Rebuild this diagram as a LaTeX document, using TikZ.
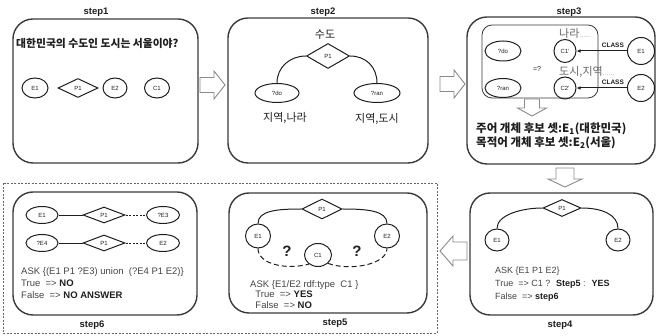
\documentclass[tikz,border=0pt]{standalone}
\usepackage{fontspec}
\setmainfont{Liberation Sans}
\newfontfamily\kr{Noto Sans CJK KR}
\usetikzlibrary{shapes.geometric,arrows.meta}
\definecolor{frame}{HTML}{3A3A3A}
\definecolor{ink}{HTML}{1E1E1E}
\definecolor{txt}{HTML}{454545}
\definecolor{arrowgray}{HTML}{8A8A8A}
\tikzset{
  stepbox/.style={draw=frame, line width=1.4pt, rounded corners=20pt, inner sep=0pt},
  steplabel/.style={font=\bfseries\fontsize{9.5}{10}\selectfont, text=ink},
  ent/.style={ellipse, draw=ink, line width=1pt, inner sep=0pt, font=\fontsize{6}{6}\selectfont, text=ink},
  rel/.style={diamond, draw=ink, line width=1pt, inner sep=0pt, font=\fontsize{6}{6}\selectfont, text=ink},
  link/.style={draw=ink, line width=1pt},
  dashlink/.style={draw=ink, line width=1pt, dash pattern=on 5pt off 3pt},
  dotlink/.style={draw=ink, line width=0.8pt, dash pattern=on 2pt off 1.5pt},
  krtext/.style={font=\kr\fontsize{11}{11}\selectfont, text=ink},
  krbold/.style={font=\kr\bfseries\fontsize{10.8}{13}\selectfont, text=ink, align=left},
  asktext/.style={font=\fontsize{9.5}{11}\selectfont, text=txt, align=left, inner sep=0pt},
  % hollow block arrow: total length, head length, body half width, head half width
  pics/blockarrow/.style n args={4}{code={
    \draw[draw=arrowgray, line width=0.9pt, fill=white, line join=miter]
      (0,-#3) -- ({#1-#2},-#3) -- ({#1-#2},-#4) -- (#1,0) -- ({#1-#2},#4) -- ({#1-#2},#3) -- (0,#3) -- cycle;}},
}
\begin{document}
\begin{tikzpicture}[x=1pt,y=-1pt]
\useasboundingbox (0,0) rectangle (657,336);

% ---------- step 1 ----------
\node[steplabel] (l1) at (96,12) {step1};
\node[stepbox, minimum width=185pt, minimum height=144pt] (s1) at (105.5,91) {};
\node[krbold, anchor=west, inner sep=0pt] (q1) at (16,43) {대한민국의 수도인 도시는 서울이야?};
\node[ent, minimum width=26pt, minimum height=20pt] (e11) at (35,88) {E1};
\node[rel, minimum width=40pt, minimum height=19pt] (p11) at (78,88) {P1};
\node[ent, minimum width=24pt, minimum height=20pt] (e12) at (115,88) {E2};
\node[ent, minimum width=25pt, minimum height=20pt] (c11) at (157,88) {C1};

\pic at (200,85) {blockarrow={25}{11}{7.5}{14}};

% ---------- step 2 ----------
\node[steplabel] (l2) at (323,12) {step2};
\node[stepbox, minimum width=200pt, minimum height=145pt] (s2) at (328,90.5) {};
\node[krtext] (cap) at (325,35) {수도};
\node[rel, minimum width=43pt, minimum height=25pt] (p2) at (328,56) {P1};
\node[ent, minimum width=44pt, minimum height=19pt] (do2) at (277,93) {?do};
\node[ent, minimum width=46pt, minimum height=19pt] (ran2) at (377,93) {?ran};
\draw[link] (do2.north) .. controls +(0,-16) and +(-16,0) .. (p2.west);
\draw[link] (p2.east) .. controls +(16,0) and +(0,-16) .. (ran2.north);
\node[krtext] (t21) at (285,118) {지역,나라};
\node[krtext] (t22) at (377,119) {지역,도시};

\pic at (440,84) {blockarrow={25}{11}{7.5}{14}};

% ---------- step 3 ----------
\node[steplabel] (l3) at (569,12) {step3};
\node[stepbox, minimum width=188pt, minimum height=147pt] (s3) at (561,90.5) {};
\node[draw=frame, line width=0.8pt, rounded corners=10pt, minimum width=116pt, minimum height=73pt] (inner3) at (540,61.5) {};
\node[ent, minimum width=36pt, minimum height=20pt] (do3) at (503,51) {?do};
\node[ent, minimum width=36pt, minimum height=19pt] (ran3) at (503,88) {?ran};
\node[ent, minimum width=22pt, minimum height=23pt] (c31) at (565,51) {C1'};
\node[ent, minimum width=22pt, minimum height=22pt] (c32) at (565,88) {C2'};
\node[ent, minimum width=27pt, minimum height=27pt] (e31) at (641,51) {E1};
\node[ent, minimum width=27pt, minimum height=27pt] (e32) at (641,88) {E2};
\node[font=\fontsize{7}{7}\selectfont, text=ink] (eq3) at (537,69) {=?};
\draw[link, -{Latex[length=4pt,width=3.5pt]}] (e31) -- (c31)
  node[pos=0.28, above=-0.5pt, font=\bfseries\fontsize{6.5}{7}\selectfont, text=ink] (cl1) {CLASS};
\draw[link, -{Latex[length=4pt,width=3.5pt]}] (e32) -- (c32)
  node[pos=0.28, above=-0.5pt, font=\bfseries\fontsize{6.5}{7}\selectfont, text=ink] (cl2) {CLASS};
\node[anchor=west, inner sep=0pt, font=\kr\fontsize{11}{11}\selectfont, text=black!60] (n3) at (559,33)
  {나라\textcolor{black!40}{\fontsize{7}{7}\selectfont ......}};
\node[anchor=west, inner sep=0pt, font=\kr\fontsize{11}{11}\selectfont, text=black!60] (d3) at (559,72)
  {도시,지역\textcolor{black!40}{\fontsize{7}{7}\selectfont ......}};
\pic[rotate=-90] at (532,99) {blockarrow={17}{8}{7.5}{14.5}};
\node[krbold, anchor=north west, inner sep=0pt, font=\kr\bfseries\fontsize{11.5}{13.5}\selectfont] (cand) at (476,123)
  {주어 개체 후보 셋:E\textsubscript{1}(대한민국)\\목적어 개체 후보 셋:E\textsubscript{2}(서울)};

\pic[rotate=-90] at (565,168) {blockarrow={19}{8}{9}{17}};

% ---------- step 4 ----------
\node[steplabel] (l4) at (560,325) {step4};
\node[stepbox, minimum width=183pt, minimum height=122pt] (s4) at (561.5,254) {};
\node[rel, minimum width=38pt, minimum height=17pt] (p4) at (562,208) {P1};
\node[ent, minimum width=24pt, minimum height=22pt] (e41) at (497,240) {E1};
\node[ent, minimum width=24pt, minimum height=22pt] (e42) at (618,240) {E2};
\draw[link] (e41.north) .. controls +(0,-14) and +(-20,0) .. (p4.west);
\draw[link] (p4.east) .. controls +(20,0) and +(0,-14) .. (e42.north);
\node[asktext, anchor=north west, font=\fontsize{9}{13}\selectfont] (ask4) at (495,267)
  {ASK \{E1 P1 E2\}\\True \ => C1 ? \ \textcolor{ink}{\bfseries Step5} : \ \textcolor{ink}{\bfseries YES}\\False \ => \textcolor{ink}{\bfseries step6}};

\pic[rotate=180] at (467,251) {blockarrow={27}{13}{9}{15}};

% ---------- steps 5 and 6 (dashed group) ----------
\node[draw=black!60, line width=0.6pt, dash pattern=on 2pt off 1.5pt, minimum width=434pt, minimum height=150pt, inner sep=0pt] (grp) at (220,258) {};

% step 5
\node[steplabel] (l5) at (335,323) {step5};
\node[stepbox, minimum width=198pt, minimum height=120pt] (s5) at (328,253) {};
\node[rel, minimum width=40pt, minimum height=20pt] (p5) at (322,209) {P1};
\node[ent, minimum width=25pt, minimum height=24pt] (e51) at (258,236) {E1};
\node[ent, minimum width=25pt, minimum height=24pt] (e52) at (387,236) {E2};
\node[ent, minimum width=27pt, minimum height=23pt] (c5) at (318,255) {C1};
\draw[link] (e51.north) .. controls +(0,-13) and +(-24,0) .. (p5.west);
\draw[link] (p5.east) .. controls +(24,0) and +(0,-13) .. (e52.north);
\draw[dashlink] (e51.south) .. controls +(0,16) and +(-22,6) .. (c5.225);
\draw[dashlink] (c5.-40) .. controls +(22,8) and +(0,16) .. (e52.south);
\node[font=\bfseries\fontsize{15}{15}\selectfont, text=ink] (qa) at (287,251) {?};
\node[font=\bfseries\fontsize{15}{15}\selectfont, text=ink] (qb) at (357,251) {?};
\node[asktext, anchor=north west, font=\fontsize{9.5}{10.5}\selectfont] (ask5) at (250,280)
  {ASK \{E1/E2 rdf:type \ C1 \}\\\ \ True \ => \textcolor{ink}{\bfseries YES}\\\ \ False \ => \textcolor{ink}{\bfseries NO}};

% step 6
\node[steplabel] (l6) at (92,325) {step6};
\node[stepbox, minimum width=184pt, minimum height=123pt] (s6) at (105,253.5) {};
\node[ent, minimum width=32pt, minimum height=17pt] (e61) at (42,215) {E1};
\node[rel, minimum width=42pt, minimum height=16pt] (p61) at (104,215) {P1};
\node[ent, minimum width=33pt, minimum height=17pt] (x63) at (163,215) {?E3};
\node[ent, minimum width=32pt, minimum height=17pt] (x64) at (42,243) {?E4};
\node[rel, minimum width=42pt, minimum height=16pt] (p62) at (104,243) {P1};
\node[ent, minimum width=33pt, minimum height=17pt] (e62) at (163,243) {E2};
\draw[link, line width=0.8pt] (e61) -- (p61);
\draw[dotlink] (p61) -- (x63);
\draw[link, line width=0.8pt] (x64) -- (p62);
\draw[dotlink] (p62) -- (e62);
\node[asktext, anchor=north west, font=\fontsize{9.5}{12}\selectfont] (ask6) at (21,267)
  {ASK \{(E1 P1 ?E3) union \ (?E4 P1 E2)\}\\True \ => \textcolor{ink}{\bfseries NO}\\False \ => \textcolor{ink}{\bfseries NO ANSWER}};

\end{tikzpicture}
\end{document}
